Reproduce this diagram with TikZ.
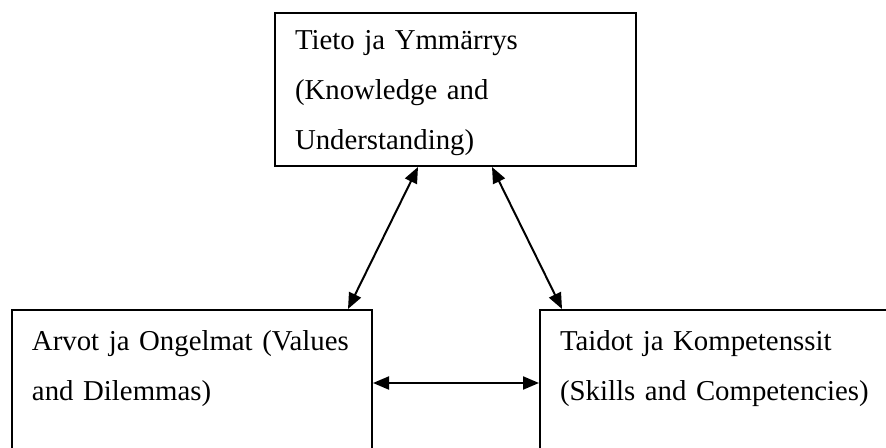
\documentclass[tikz,border=0pt]{standalone}
\usepackage{fontspec}
\setmainfont{Liberation Serif}
\usetikzlibrary{arrows.meta}

\begin{document}
\begin{tikzpicture}[x=0.5pt, y=-0.5pt, line width=1pt, >={Triangle[length=8pt,width=6.5pt]}]

   \useasboundingbox (0,0) rectangle (886,448);
   \begin{scope}[every node/.style={draw=black,anchor=north west,inner ysep=0pt,inner xsep=10pt,align=left,font=\fontsize{14.4pt}{25pt}\selectfont}]
    \node[text width=160.5pt,text height=18.5pt,text depth=58pt] (tieto) at (274,12) {Tieto ja Ymmärrys\\(Knowledge and\\Understanding)};
    \node[text width=160pt,text height=20pt,text depth=65pt] (arvot) at (11,309) {Arvot ja Ongelmat (Values\\and Dilemmas)};
    \node[text width=160pt,text height=20pt,text depth=65pt] (taidot) at (539,309) {Taidot ja Kompetenssit\\(Skills and Competencies)};
   \end{scope}
\draw[<->] ([xshift=72pt]tieto.south west) -- ([xshift=168.5pt]arvot.north west);
\draw[<->] ([xshift=109pt]tieto.south west) -- ([xshift=11.5pt]taidot.north west);
\draw[<->] ([yshift=-37pt]arvot.north east) -- ([yshift=-37pt]taidot.north west);
\end{tikzpicture}
\end{document}
